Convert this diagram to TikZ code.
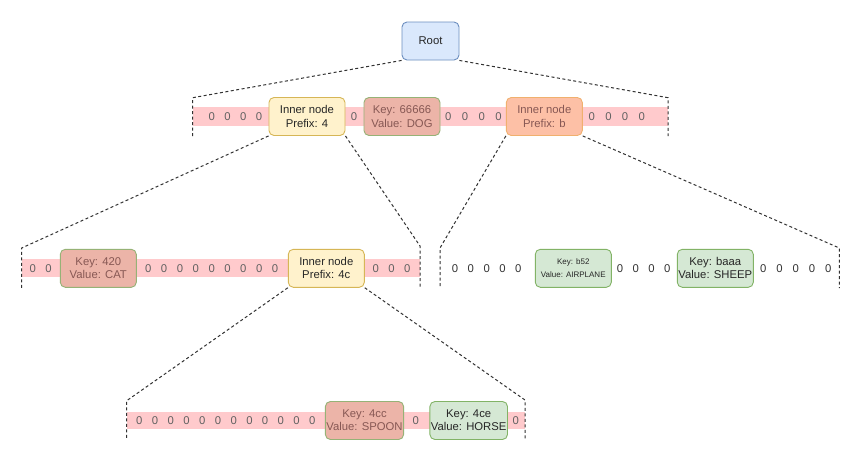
\documentclass[tikz,border=0pt]{standalone}
\usepackage{fontspec}
\setmainfont{Liberation Sans}
\definecolor{band}{RGB}{255,202,204}
\definecolor{rootfill}{RGB}{218,232,252}
\definecolor{rootdraw}{RGB}{108,142,191}
\definecolor{yelfill}{RGB}{255,242,204}
\definecolor{yeldraw}{RGB}{214,182,86}
\definecolor{grnfill}{RGB}{213,232,212}
\definecolor{grndraw}{RGB}{130,179,102}
\definecolor{salfill}{RGB}{236,180,168}
\definecolor{saldraw}{RGB}{150,178,118}
\definecolor{orgfill}{RGB}{253,192,166}
\definecolor{orgdraw}{RGB}{240,176,110}
\definecolor{fadetext}{RGB}{135,88,84}
\definecolor{dashc}{RGB}{50,50,50}
\tikzset{
  box/.style={draw, rounded corners=5pt, line width=0.9pt, minimum width=76pt, minimum height=38pt,
    align=center, inner sep=1pt, font=\fontsize{11.3}{13.3}\selectfont, text=black!85},
  rootbox/.style={box, fill=rootfill, draw=rootdraw, minimum width=57pt},
  innerbox/.style={box, fill=yelfill, draw=yeldraw},
  leafbox/.style={box, fill=grnfill, draw=grndraw},
  fadeleaf/.style={box, fill=salfill, draw=saldraw, text=fadetext},
  fadeinner/.style={box, fill=orgfill, draw=orgdraw, text=fadetext},
  zero/.style={inner sep=0pt, font=\fontsize{11.3}{13}\selectfont, text=black!80},
  pinkzero/.style={zero, text=black!62},
  outline/.style={draw=dashc, line width=1pt, dash pattern=on 3pt off 2.5pt},
  bandstrip/.style={fill=band, draw=none}
}
\begin{document}
\begin{tikzpicture}[x=1pt,y=-1pt]
\useasboundingbox (0,0) rectangle (860,469);
\fill[white] (0,0) rectangle (860,469);

% bands
\path[bandstrip] (192.7,107.3) rectangle (668,125.7);
\path[bandstrip] (21.7,259.3) rectangle (420,276.7);
\path[bandstrip] (126.7,411.7) rectangle (525,429.3);

% nodes
\node[rootbox] (root) at (430.5,41) {Root};
\node[innerbox] (in4) at (307,116.5) {Inner node\\Prefix: 4};
\node[fadeleaf] (dog) at (402,116.5) {Key: 66666\\Value: DOG};
\node[fadeinner] (inb) at (544.3,116.5) {Inner node\\Prefix: b};
\node[fadeleaf] (cat) at (98.3,268.3) {Key: 420\\Value: CAT};
\node[innerbox] (in4c) at (326.3,268.3) {Inner node\\Prefix: 4c};
\node[leafbox, font=\fontsize{8}{13}\selectfont] (b52) at (573.3,268.3) {Key: b52\\Value: AIRPLANE};
\node[leafbox] (baaa) at (715.3,268.3) {Key: baaa\\Value: SHEEP};
\node[fadeleaf] (cc) at (364.5,420.5) {Key: 4cc\\Value: SPOON};
\node[leafbox] (ce) at (468.7,420.5) {Key: 4ce\\Value: HORSE};

% zeros level 1
\foreach \i in {0,...,3} \node[pinkzero] (za\i) at (211.7+15.8*\i,116.5) {0};
\node[pinkzero] (zb0) at (354,116.5) {0};
\foreach \i in {0,...,3} \node[pinkzero] (zc\i) at (448.3+16.7*\i,116.5) {0};
\foreach \i in {0,...,3} \node[pinkzero] (zd\i) at (591.7+16.7*\i,116.5) {0};
% zeros level 2 left
\foreach \i in {0,1} \node[pinkzero] (ze\i) at (32.7+15.7*\i,268.3) {0};
\foreach \i in {0,...,8} \node[pinkzero] (zf\i) at (148.3+15.84*\i,268.3) {0};
\foreach \i in {0,...,2} \node[pinkzero] (zg\i) at (375.7+15.8*\i,268.3) {0};
% zeros level 2 right
\foreach \i in {0,...,4} \node[zero] (zh\i) at (455+15.83*\i,268.3) {0};
\foreach \i in {0,...,3} \node[zero] (zi\i) at (620+15.77*\i,268.3) {0};
\foreach \i in {0,...,4} \node[zero] (zj\i) at (763.3+16.25*\i,268.3) {0};
% zeros level 3
\foreach \i in {0,...,11} \node[pinkzero] (zk\i) at (139.3+15.73*\i,420.5) {0};
\node[pinkzero] (zl0) at (415.7,420.5) {0};
\node[pinkzero] (zm0) at (515.7,420.5) {0};

% outline coordinates
\coordinate (l1a) at (192.7,97.7);
\coordinate (l1b) at (192.7,136);
\coordinate (l1c) at (668,97.7);
\coordinate (l1d) at (668,136);
\coordinate (l2a) at (21.7,248);
\coordinate (l2b) at (21.7,288);
\coordinate (l2c) at (420,246);
\coordinate (l2d) at (420,288);
\coordinate (l2e) at (440,248);
\coordinate (l2f) at (440,288);
\coordinate (l2g) at (839.3,248);
\coordinate (l2h) at (839.3,288);
\coordinate (l3a) at (126.7,400.7);
\coordinate (l3b) at (126.7,440);
\coordinate (l3c) at (525,400);
\coordinate (l3d) at (525,440);

\draw[outline] (root.south west) -- (l1a) -- (l1b);
\draw[outline] (root.south east) -- (l1c) -- (l1d);
\draw[outline] (in4.south west) -- (l2a) -- (l2b);
\draw[outline] (in4.south east) -- (l2c) -- (l2d);
\draw[outline] (inb.south west) -- (l2e) -- (l2f);
\draw[outline] (inb.south east) -- (l2g) -- (l2h);
\draw[outline] (in4c.south west) -- (l3a) -- (l3b);
\draw[outline] (in4c.south east) -- (l3c) -- (l3d);
\end{tikzpicture}
\end{document}
